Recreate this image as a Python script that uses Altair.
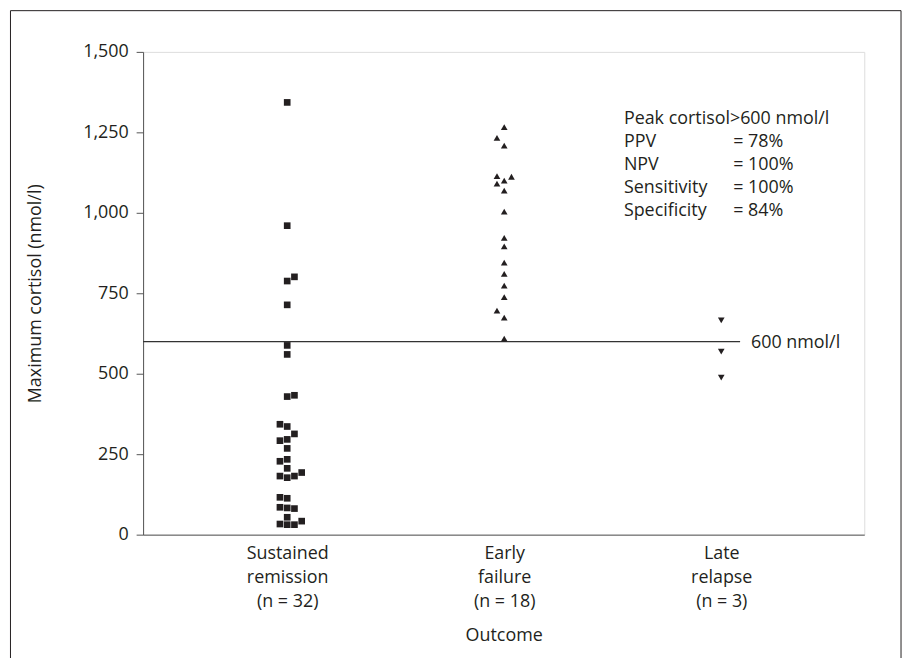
import json
import altair as alt
import pandas as pd

# ---------------- data ----------------
categories = ["Sustained remission", "Early failure", "Late relapse"]
category_labels = [
    ["Sustained", "remission", "(n = 32)"],
    ["Early", "failure", "(n = 18)"],
    ["Late", "relapse", "(n = 3)"],
]
shapes = ["square", "triangle-up", "triangle-down"]

sustained_values = [1343, 960, 801, 788, 714, 588, 560,
                    433, 429, 343, 336, 313, 296, 292, 268, 234, 228,
                    206, 193, 182, 182, 177, 116, 113, 85, 83, 81,
                    54, 42, 33, 31, 31]
sustained_slots = [0, 0, 1, 0, 0, 0, 0,
                   1, 0, -1, 0, 1, 0, -1, 0, 0, -1,
                   0, 2, -1, 1, 0, -1, 0, -1, 0, 1,
                   0, 2, -1, 0, 1]

early_values = [1266, 1233, 1209, 1114, 1112, 1100, 1091, 1069, 1004,
                922, 896, 845, 810, 774, 738, 696, 674, 609]
early_slots = [0, -1, 0, -1, 1, 0, -1, 0, 0,
               0, 0, 0, 0, 0, 0, -1, 0, 0]

late_values = [666, 569, 488]
late_slots = [0, 0, 0]

threshold = 600
threshold_label = "600 nmol/l"

stats_names = ["Peak cortisol>600 nmol/l", "PPV", "NPV", "Sensitivity", "Specificity"]
stats_values = ["", "= 78%", "= 100%", "= 100%", "= 84%"]

y_ticks = [0, 250, 500, 750, 1000, 1250, 1500]

# ---------------- build table ----------------
JITTER = 0.0334
rows = []
for i, (vals, slots) in enumerate([(sustained_values, sustained_slots),
                                   (early_values, early_slots),
                                   (late_values, late_slots)]):
    for v, s in zip(vals, slots):
        rows.append({"group": categories[i], "pos": i + s * JITTER, "cortisol": v})
df = pd.DataFrame(rows)

label_expr = " : ".join(
    f"datum.value == {i} ? {json.dumps(lbl)}" for i, lbl in enumerate(category_labels[:-1])
) + f" : {json.dumps(category_labels[-1])}"

FONT = "Open Sans"
FS = 18
INK = "#231f20"
AX = "#555555"

x_scale = alt.Scale(domain=[-0.664, 2.659], nice=False, zero=False)
y_scale = alt.Scale(domain=[0, 1500], nice=False)

points = alt.Chart(df).mark_point(filled=True, size=45, opacity=1, color=INK).encode(
    x=alt.X("pos:Q", scale=x_scale,
            axis=alt.Axis(values=[0, 1, 2], labelExpr=label_expr, ticks=False,
                          labelPadding=10, labelLineHeight=24, labelFontSize=FS,
                          labelColor=INK, grid=False, domainColor=AX,
                          title="Outcome", titlePadding=17, titleFontSize=FS,
                          titleFontWeight="normal", titleColor=INK)),
    y=alt.Y("cortisol:Q", scale=y_scale,
            axis=alt.Axis(values=y_ticks, format=",.0f", tickSize=7, labelPadding=8,
                          labelFontSize=FS, labelColor=INK, grid=False,
                          domainColor=AX, tickColor=AX,
                          title="Maximum cortisol (nmol/l)", titlePadding=38,
                          titleFontSize=FS, titleFontWeight="normal", titleColor=INK)),
    shape=alt.Shape("group:N", scale=alt.Scale(domain=categories, range=shapes), legend=None),
)

thr_df = pd.DataFrame({"cortisol": [threshold]})
rule = alt.Chart(thr_df).mark_rule(color="#333333", strokeWidth=1.2).encode(
    y=alt.Y("cortisol:Q", scale=y_scale), x=alt.value(0), x2=alt.value(601)
)
rule_text = alt.Chart(thr_df).mark_text(
    align="left", baseline="alphabetic", dy=6, fontSize=FS, color=INK, text=threshold_label
).encode(y=alt.Y("cortisol:Q", scale=y_scale), x=alt.value(612))

one = pd.DataFrame({"a": [0]})
stats_left = alt.Chart(one).mark_text(
    align="left", baseline="alphabetic", fontSize=FS, lineHeight=23, color=INK, text=stats_names
).encode(x=alt.value(484), y=alt.value(73))
stats_right = alt.Chart(one).mark_text(
    align="left", baseline="alphabetic", fontSize=FS, lineHeight=23, color=INK, text=stats_values
).encode(x=alt.value(594), y=alt.value(73))

frame = alt.Chart(one).mark_rect(fill="transparent", stroke=INK, strokeWidth=1).encode(
    x=alt.value(-133.5), x2=alt.value(763), y=alt.value(-41.5), y2=alt.value(700)
)

chart = alt.layer(frame, rule, points, rule_text, stats_left, stats_right).properties(
    width=726, height=486,
    autosize=alt.AutoSizeParams(type="none"),
    padding={"left": 136, "top": 42, "right": 40, "bottom": 122},
).configure_view(stroke=None).configure(font=FONT)

chart.save("out.html", embed_options={"renderer": "svg", "actions": False})
